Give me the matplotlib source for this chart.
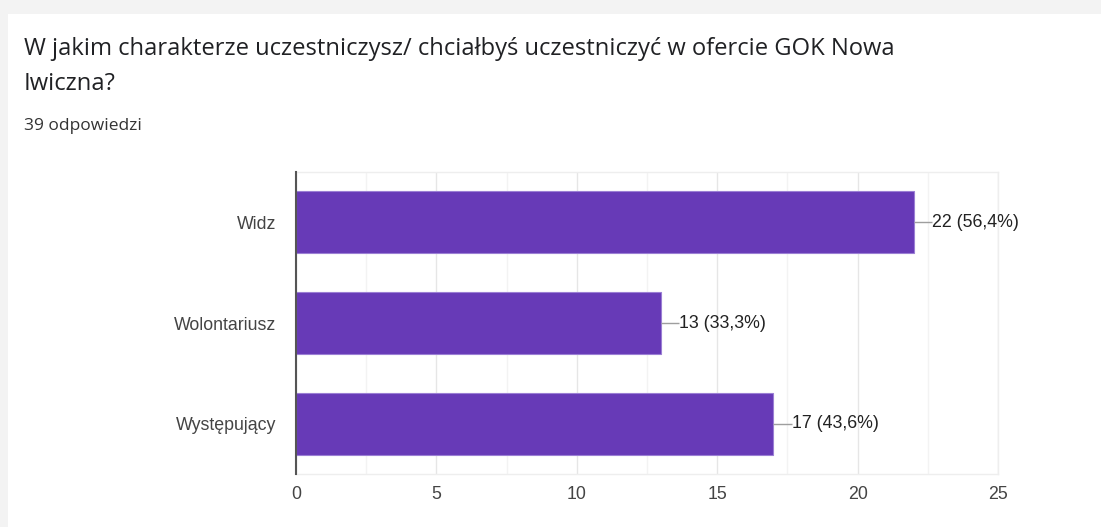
import matplotlib.pyplot as plt
from matplotlib.patches import Rectangle

# dane z wykresu
categories = ['Widz', 'Wolontariusz', 'Występujący']
counts = [22, 13, 17]
percents = ['56,4%', '33,3%', '43,6%']
total = 39

title_lines = ['W jakim charakterze uczestniczysz/ chciałbyś uczestniczyć w ofercie GOK Nowa',
               'Iwiczna?']
subtitle = f'{total} odpowiedzi'

W, H = 1101, 527
fig = plt.figure(figsize=(W / 100, H / 100), dpi=100)
fig.patch.set_facecolor('#f3f3f3')

# biała karta w tle
bg = fig.add_axes([0, 0, 1, 1], zorder=-10)
bg.axis('off')
bg.set_xlim(0, W)
bg.set_ylim(H, 0)
bg.add_patch(Rectangle((8, 14), W, H, facecolor='white', edgecolor='none'))

fnt = ['Open Sans', 'DejaVu Sans']
fig.text(24 / W, 1 - 55 / H, title_lines[0], fontsize=17.1, family=fnt, color='#202124', va='baseline')
fig.text(24 / W, 1 - 90 / H, title_lines[1], fontsize=17.1, family=fnt, color='#202124', va='baseline')
fig.text(24 / W, 1 - 130 / H, subtitle, fontsize=12.5, family=fnt, color='#333333', va='baseline')

ax = fig.add_axes([296 / W, 1 - 474 / H, (998 - 296) / W, (474 - 172) / H])
ax.set_facecolor('white')

lab_font = ['Liberation Sans', 'DejaVu Sans']
y = list(range(len(categories)))
ax.barh(y, counts, height=0.615, color='#673ab7', edgecolor='#9b7fd4', linewidth=0.8, zorder=3)

for yi, c, p in zip(y, counts, percents):
    ax.plot([c, c + 0.65], [yi, yi], color='#9e9e9e', lw=1, zorder=3, solid_capstyle='butt')
    ax.text(c + 0.65, yi, f'{c} ({p})', va='center', ha='left', fontsize=12.8,
            family=lab_font, color='#222222')

ax.set_xlim(0, 25)
ax.set_ylim(2.5, -0.5)
ax.set_yticks(y)
ax.set_yticklabels(categories)
ax.set_xticks([0, 5, 10, 15, 20, 25])
ax.set_xticks([2.5, 7.5, 12.5, 17.5, 22.5], minor=True)

ax.grid(axis='x', which='major', color='#e6e6e6', lw=1, zorder=0)
ax.grid(axis='x', which='minor', color='#f3f3f3', lw=1, zorder=0)

for lab in ax.get_xticklabels() + ax.get_yticklabels():
    lab.set_family(lab_font)
    lab.set_fontsize(12.8)
    lab.set_color('#444444')

ax.tick_params(axis='both', which='both', length=0)
ax.tick_params(axis='y', pad=14)
ax.tick_params(axis='x', pad=8.5)

for s in ['top', 'right', 'bottom']:
    ax.spines[s].set_color('#eeeeee')
    ax.spines[s].set_linewidth(1)
ax.spines['left'].set_color('#555555')
ax.spines['left'].set_linewidth(1.5)
ax.spines['left'].set_zorder(4)

plt.savefig('out.png', dpi=100, facecolor=fig.get_facecolor())
